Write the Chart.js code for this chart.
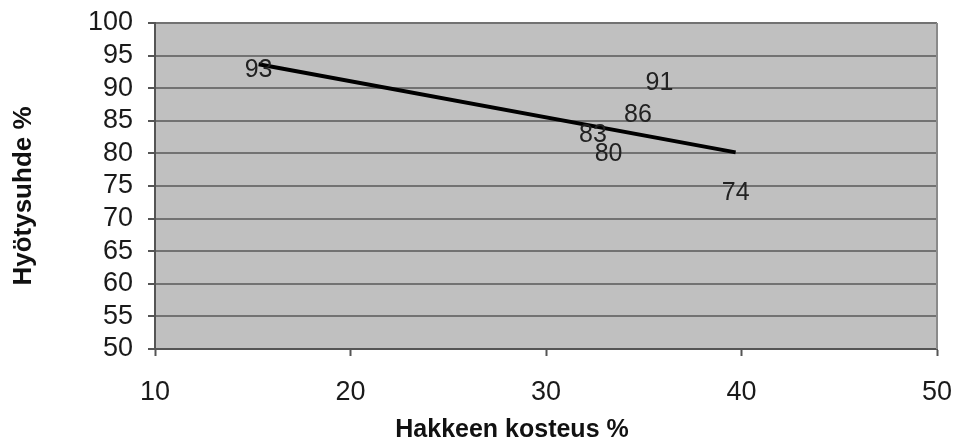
<!DOCTYPE html>
<html>
<head>
<meta charset="utf-8">
<script src="https://cdn.jsdelivr.net/npm/chart.js@4/dist/chart.umd.min.js"></script>
<style>
  html, body { margin: 0; padding: 0; background: #ffffff; }
  #wrap { width: 956px; height: 443px; }
</style>
</head>
<body>
<div id="wrap"><canvas id="c" width="956" height="443"></canvas></div>
<script>
// Hakkeen kosteus (%) ja kattilan hyötysuhde (%)
const moisture   = [15.3, 35.8, 34.7, 32.4, 33.2, 39.7];
const efficiency = [93, 91, 86, 83, 80, 74];
const yTicks = [50, 55, 60, 65, 70, 75, 80, 85, 90, 95, 100];
const xTicks = [10, 20, 30, 40, 50];
const xTitle = 'Hakkeen kosteus %';
const yTitle = 'Hyötysuhde %';

const points = moisture.map((x, i) => ({ x, y: efficiency[i] }));

// Linear least-squares trendline over the measured range
const n = points.length;
const mx = moisture.reduce((a, b) => a + b, 0) / n;
const my = efficiency.reduce((a, b) => a + b, 0) / n;
let sxy = 0, sxx = 0;
for (let i = 0; i < n; i++) {
  sxy += (moisture[i] - mx) * (efficiency[i] - my);
  sxx += (moisture[i] - mx) ** 2;
}
const slope = sxy / sxx;
const xMin = Math.min(...moisture), xMax = Math.max(...moisture);
const trend = [xMin, xMax].map(x => ({ x, y: my + slope * (x - mx) }));

const FONT = '"Liberation Sans", Arial, sans-serif';

// Keep the plot area fixed; tick labels may overhang into the margins.
function clearPadding(scale) {
  scale.paddingTop = 0;
  scale.paddingBottom = 0;
  scale.paddingLeft = 0;
  scale.paddingRight = 0;
}

const plotDecor = {
  id: 'plotDecor',
  beforeDraw(chart) {
    const { ctx, chartArea: a } = chart;
    ctx.save();
    ctx.fillStyle = '#c0c0c0';
    ctx.fillRect(a.left, a.top, a.right - a.left, a.bottom - a.top);
    ctx.restore();
  },
  afterDatasetsDraw(chart) {
    const { ctx, chartArea: a } = chart;
    ctx.save();
    // right edge of the plot area
    ctx.strokeStyle = '#8a8a8a';
    ctx.lineWidth = 2;
    ctx.beginPath();
    ctx.moveTo(a.right, a.top);
    ctx.lineTo(a.right, a.bottom);
    ctx.stroke();

    // value labels centred on each measurement
    const meta = chart.getDatasetMeta(0);
    ctx.fillStyle = '#222222';
    ctx.font = '25px ' + FONT;
    ctx.textAlign = 'center';
    ctx.textBaseline = 'middle';
    meta.data.forEach((el, i) => {
      ctx.fillText(String(efficiency[i]), el.x, el.y + 1);
    });

    // axis titles
    ctx.fillStyle = '#111111';
    ctx.font = 'bold 25px ' + FONT;
    ctx.textBaseline = 'middle';
    ctx.fillText(xTitle, 512, 430);
    ctx.translate(24, 196);
    ctx.rotate(-Math.PI / 2);
    ctx.font = 'bold 26px ' + FONT;
    ctx.fillText(yTitle, 0, 0);
    ctx.restore();
  }
};

new Chart(document.getElementById('c'), {
  type: 'scatter',
  data: {
    datasets: [
      {
        label: 'Hyötysuhde',
        data: points,
        pointRadius: 0,
        showLine: false
      },
      {
        label: 'Trendi',
        data: trend,
        showLine: true,
        borderColor: '#000000',
        borderWidth: 4,
        pointRadius: 0,
        fill: false
      }
    ]
  },
  options: {
    responsive: false,
    animation: false,
    layout: { padding: { top: 23, right: 19, left: 0, bottom: 0 } },
    plugins: {
      legend: { display: false },
      tooltip: { enabled: false }
    },
    scales: {
      x: {
        type: 'linear',
        min: 10,
        max: 50,
        afterBuildTicks(scale) { scale.ticks = xTicks.map(v => ({ value: v })); },
        afterFit(scale) { scale.height = 94; clearPadding(scale); },
        ticks: {
          color: '#1a1a1a',
          font: { family: FONT, size: 27 },
          padding: 20,
          maxRotation: 0,
          autoSkip: false
        },
        grid: {
          drawOnChartArea: false,
          drawTicks: true,
          tickLength: 7,
          tickColor: '#555555',
          tickWidth: 2
        },
        border: { display: true, color: '#555555', width: 2 }
      },
      y: {
        type: 'linear',
        min: 50,
        max: 100,
        afterBuildTicks(scale) { scale.ticks = yTicks.map(v => ({ value: v })); },
        afterFit(scale) { scale.width = 155; clearPadding(scale); },
        ticks: {
          color: '#1a1a1a',
          font: { family: FONT, size: 27 },
          padding: 15,
          autoSkip: false
        },
        grid: {
          color: '#727272',
          lineWidth: 2,
          drawTicks: true,
          tickLength: 7,
          tickColor: '#555555',
          tickWidth: 2
        },
        border: { display: true, color: '#555555', width: 2 }
      }
    }
  },
  plugins: [plotDecor]
});
</script>
</body>
</html>
